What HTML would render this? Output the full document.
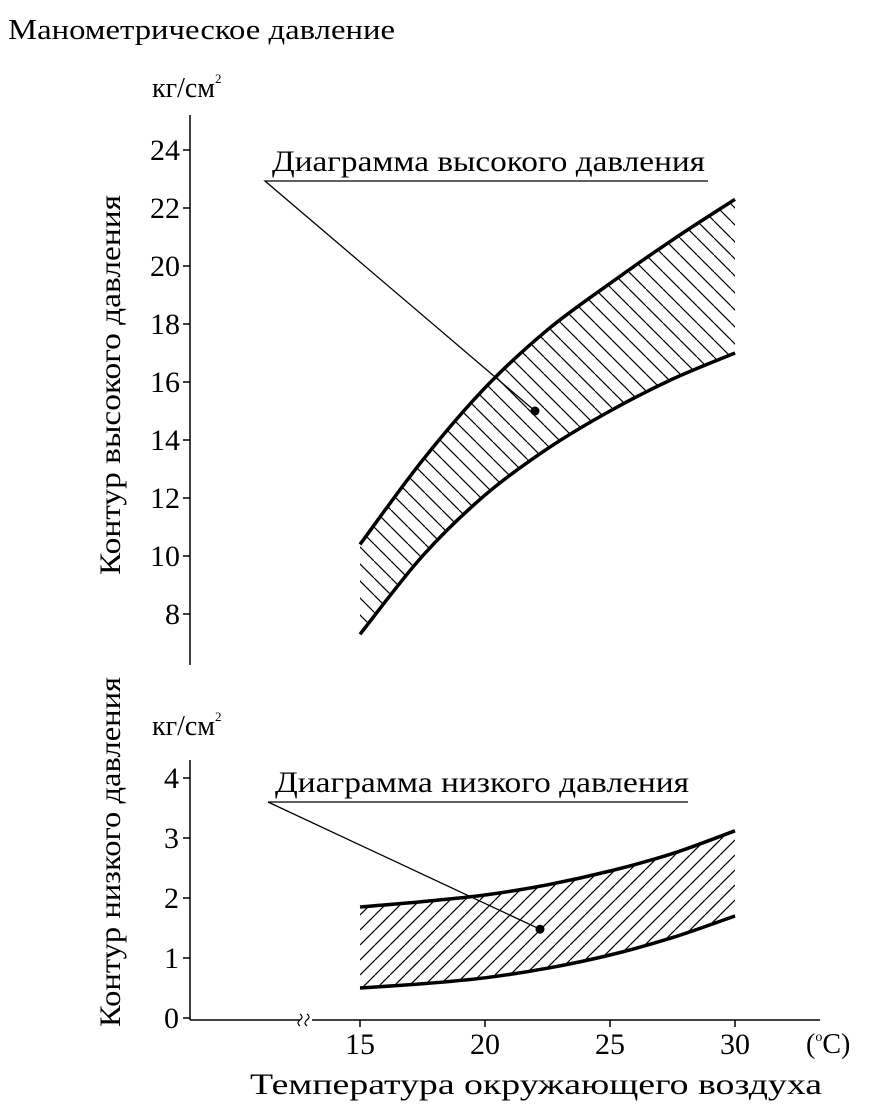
<!DOCTYPE html>
<html><head><meta charset="utf-8"><style>
html,body{margin:0;padding:0;background:#fff;}
svg{display:block;font-family:"Liberation Serif",serif;}
</style></head><body>
<svg width="871" height="1106" viewBox="0 0 871 1106" id="chart">
<defs>
<pattern id="hatchHigh" patternUnits="userSpaceOnUse" width="17" height="17">
<line x1="0" y1="0" x2="17" y2="17" stroke="#000" stroke-width="1.2"/>
<line x1="-17" y1="0" x2="0" y2="17" stroke="#000" stroke-width="1.2"/>
<line x1="17" y1="0" x2="34" y2="17" stroke="#000" stroke-width="1.2"/>
</pattern>
<pattern id="hatchLow" patternUnits="userSpaceOnUse" width="15" height="15">
<line x1="0" y1="15" x2="15" y2="0" stroke="#000" stroke-width="1.2"/>
<line x1="-15" y1="15" x2="0" y2="0" stroke="#000" stroke-width="1.2"/>
<line x1="15" y1="15" x2="30" y2="0" stroke="#000" stroke-width="1.2"/>
</pattern>
</defs>
<text x="8" y="39" font-size="28" textLength="387" lengthAdjust="spacingAndGlyphs">Манометрическое давление</text>
<text x="152" y="97" font-size="28">кг/см<tspan font-size="13" dy="-14">2</tspan></text>
<text x="152" y="735" font-size="28">кг/см<tspan font-size="13" dy="-14">2</tspan></text>
<text transform="translate(120,385) rotate(-90)" text-anchor="middle" font-size="30" textLength="380" lengthAdjust="spacingAndGlyphs">Контур высокого давления</text>
<text transform="translate(120,852) rotate(-90)" text-anchor="middle" font-size="30" textLength="350" lengthAdjust="spacingAndGlyphs">Контур низкого давления</text>
<text x="536" y="1094" text-anchor="middle" font-size="30" textLength="572" lengthAdjust="spacingAndGlyphs">Температура окружающего воздуха</text>
<text x="806" y="1053" font-size="28">(<tspan font-size="14" dy="-12">o</tspan><tspan dy="12">C)</tspan></text>
<g id="plot"></g>
</svg>
<script>
const temps = [15, 17.5, 20, 22.5, 25, 27.5, 30];
const highUpper = [10.4, 13.3, 15.8, 17.8, 19.4, 20.9, 22.3];
const highLower = [7.3, 10.0, 12.1, 13.7, 15.0, 16.1, 17.0];
const lowUpper = [1.85, 1.94, 2.05, 2.22, 2.45, 2.74, 3.12];
const lowLower = [0.5, 0.57, 0.67, 0.83, 1.05, 1.34, 1.7];
const highTicks = [8, 10, 12, 14, 16, 18, 20, 22, 24];
const lowTicks = [0, 1, 2, 3, 4];
const xTicks = [15, 20, 25, 30];
const highDot = [22, 15.0];
const lowDot = [22.2, 1.48];

const NS = 'http://www.w3.org/2000/svg';
const g = document.getElementById('plot');
const xS = t => 360 + (t - 15) * 25;
const yH = v => 150 + (24 - v) * 29;
const yL = v => 1018 - v * 60;

function mk(tag, attrs, parent) {
  const e = document.createElementNS(NS, tag);
  for (const k in attrs) e.setAttribute(k, attrs[k]);
  (parent || g).appendChild(e);
  return e;
}
function curvePts(xs, ys, yf) {
  return xs.map((t, i) => [xS(t), yf(ys[i])]);
}
function smooth(p, start) {
  let d = start ? 'M' + p[0][0] + ',' + p[0][1] : 'L' + p[0][0] + ',' + p[0][1];
  for (let i = 0; i < p.length - 1; i++) {
    const p0 = p[i - 1] || p[i], p1 = p[i], p2 = p[i + 1], p3 = p[i + 2] || p2;
    const c1 = [p1[0] + (p2[0] - p0[0]) / 6, p1[1] + (p2[1] - p0[1]) / 6];
    const c2 = [p2[0] - (p3[0] - p1[0]) / 6, p2[1] - (p3[1] - p1[1]) / 6];
    d += 'C' + c1 + ' ' + c2 + ' ' + p2;
  }
  return d;
}
function band(up, lo, yf, pat, name) {
  const pu = curvePts(temps, up, yf), pl = curvePts(temps, lo, yf);
  const d = smooth(pu, true) + smooth(pl.slice().reverse(), false) + 'Z';
  const area = mk('path', {d: d, fill: 'url(#' + pat + ')', stroke: 'none'});
  
  
  const u = mk('path', {d: smooth(pu, true), fill: 'none', stroke: '#000', 'stroke-width': 3.5});
  
  
  const l = mk('path', {d: smooth(pl, true), fill: 'none', stroke: '#000', 'stroke-width': 3.5});
  
  
}
band(highUpper, highLower, yH, 'hatchHigh', 'high-pressure');
band(lowUpper, lowLower, yL, 'hatchLow', 'low-pressure');

let a = mk('line', {x1: 190, y1: 115, x2: 190, y2: 665, stroke: '#000', 'stroke-width': 1.5});


a = mk('line', {x1: 190, y1: 760, x2: 190, y2: 1020, stroke: '#000', 'stroke-width': 1.5});


a = mk('path', {d: 'M190,1020H300M312,1020H820', stroke: '#000', 'stroke-width': 1.5, fill: 'none'});


a = mk('path', {d: 'M300,1014q4,3 0,6q-4,3 0,6M307,1014q4,3 0,6q-4,3 0,6', stroke: '#000', 'stroke-width': 1.2, fill: 'none'});



highTicks.forEach(v => {
  const t = mk('line', {x1: 183, y1: yH(v), x2: 190, y2: yH(v), stroke: '#000', 'stroke-width': 1.5});
  
  
  const tx = mk('text', {x: 180, y: yH(v) + 10, 'text-anchor': 'end', 'font-size': 30});
  tx.textContent = v;
  
  
});
lowTicks.forEach(v => {
  const t = mk('line', {x1: 183, y1: yL(v), x2: 190, y2: yL(v), stroke: '#000', 'stroke-width': 1.5});
  
  
  const tx = mk('text', {x: 179, y: yL(v) + 10, 'text-anchor': 'end', 'font-size': 30});
  tx.textContent = v;
  
  
});
xTicks.forEach(v => {
  const t = mk('line', {x1: xS(v), y1: 1020, x2: xS(v), y2: 1027, stroke: '#000', 'stroke-width': 1.5});
  
  
  const tx = mk('text', {x: xS(v), y: 1054, 'text-anchor': 'middle', 'font-size': 30});
  tx.textContent = v;
  
  
});

function annot(lx1, lx2, ly, tw, dot, yf, label, name) {
  const tx = mk('text', {x: lx1 + 7, y: ly - 10, 'font-size': 30, textLength: tw, lengthAdjust: 'spacingAndGlyphs'});
  tx.textContent = label;
  
  
  const ln = mk('path', {d: 'M' + lx2 + ',' + ly + 'H' + lx1 + 'L' + xS(dot[0]) + ',' + yf(dot[1]), stroke: '#000', 'stroke-width': 1.3, fill: 'none'});
  
  
  const c = mk('circle', {cx: xS(dot[0]), cy: yf(dot[1]), r: 4.5, fill: '#000'});
  
  
}
annot(265, 708, 181, 433, highDot, yH, 'Диаграмма высокого давления', 'high-diagram');
annot(268, 688, 802, 414, lowDot, yL, 'Диаграмма низкого давления', 'low-diagram');
</script>
</body></html>
